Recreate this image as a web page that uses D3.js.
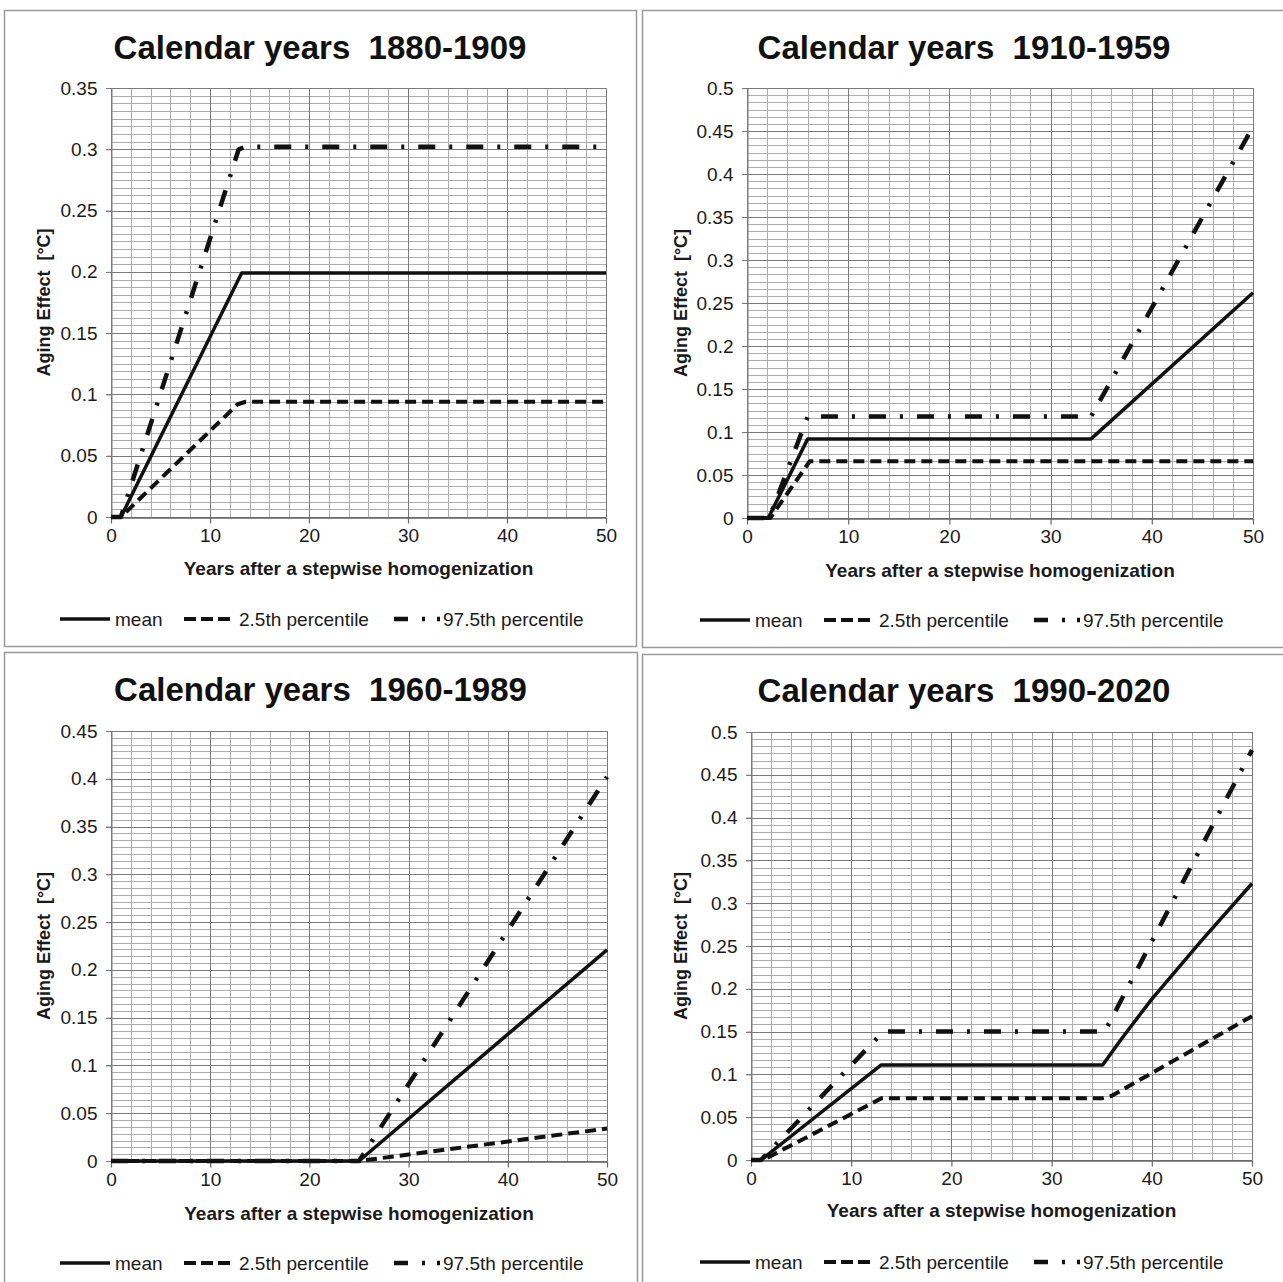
<!DOCTYPE html>
<html>
<head>
<meta charset="utf-8">
<script src="https://cdn.jsdelivr.net/npm/d3@7"></script>
<style>
  body { margin: 0; background: #fff; }
  svg { display: block; }
</style>
</head>
<body>
<svg id="chart" width="1283" height="1282"></svg>
<script>
'use strict';

// ── data ────────────────────────────────────────────────────────────────────
const periods = ['1880-1909', '1910-1959', '1960-1989', '1990-2020'];
const yMaxes = [0.35, 0.5, 0.45, 0.5];
const xTicks = [0, 10, 20, 30, 40, 50];
const seriesNames = ['mean', '2.5th percentile', '97.5th percentile'];

// [years after homogenization, aging effect °C]
const mean1880 = [[0, 0], [1, 0], [13.2, 0.199], [50, 0.199]];
const low1880  = [[0, 0], [1, 0], [12.8, 0.092], [13.6, 0.094], [50, 0.094]];
const high1880 = [[0, 0], [1, 0], [12.9, 0.300], [13.6, 0.302], [50, 0.302]];

const mean1910 = [[0, 0], [2.1, 0], [6, 0.092], [34, 0.092], [50, 0.262]];
const low1910  = [[0, 0], [2.3, 0], [6.2, 0.066], [50, 0.066]];
const high1910 = [[0, 0], [2.2, 0], [6, 0.118], [34, 0.118], [50, 0.455]];

const mean1960 = [[0, 0], [25, 0], [50, 0.221]];
const low1960  = [[0, 0], [25, 0], [50, 0.034]];
const high1960 = [[0, 0], [25, 0], [50, 0.402]];

const mean1990 = [[0, 0], [1, 0], [13, 0.111], [35.1, 0.111], [37, 0.142], [40, 0.188], [45, 0.257], [50, 0.323]];
const low1990  = [[0, 0], [1.2, 0], [13, 0.072], [35, 0.072], [36, 0.075], [50, 0.168]];
const high1990 = [[0, 0], [1, 0], [13.2, 0.150], [35.3, 0.150], [50, 0.479]];

// ── layout (pixel boxes of each sub chart) ──────────────────────────────────
const panels = [
  { period: periods[0], yMax: yMaxes[0], series: [mean1880, low1880, high1880],
    box: [4, 10, 632, 636], plot: [111, 88, 606, 517], minor: 8, titleY: 47, xlabY: 568, ylabX: 44, legX: 60, legY: 619 },
  { period: periods[1], yMax: yMaxes[1], series: [mean1910, low1910, high1910],
    box: [642, 10, 644, 637], plot: [747, 88, 1253, 518], minor: 6, titleY: 47, xlabY: 570, ylabX: 681, legX: 700, legY: 620 },
  { period: periods[2], yMax: yMaxes[2], series: [mean1960, low1960, high1960],
    box: [4, 652, 633, 640], plot: [111, 731, 607, 1161], minor: 7, titleY: 689, xlabY: 1213, ylabX: 44, legX: 60, legY: 1263 },
  { period: periods[3], yMax: yMaxes[3], series: [mean1990, low1990, high1990],
    box: [642, 654, 644, 640], plot: [751, 732, 1252, 1160], minor: 6, titleY: 690, xlabY: 1210, ylabX: 681, legX: 700, legY: 1262 },
];

const FONT = '"Liberation Sans", Arial, sans-serif';
const INK = '#111';
const TXT = '#1a1a1a';
const styles = [
  { width: 3.5, dash: null },
  { width: 4, dash: '11,6' },
  { width: 4.5, dash: '17,14,3,14' },
];

const svg = d3.select('#chart');
svg.append('rect').attr('width', 1283).attr('height', 1282).attr('fill', '#fff');

const fmt = v => String(+v.toFixed(2));

panels.forEach(p => {
  const g = svg.append('g');
  const [bx, by, bw, bh] = p.box;
  const [x0, y0, x1, y1] = p.plot;

  // panel frame
  g.append('rect')
    .attr('x', bx + 0.5).attr('y', by + 0.5)
    .attr('width', bw).attr('height', bh)
    .attr('fill', '#fff')
    .attr('stroke', '#9a9a9a')
    .attr('stroke-width', 1.5);

  const x = d3.scaleLinear().domain([0, 50]).range([x0, x1]);
  const y = d3.scaleLinear().domain([0, p.yMax]).range([y1, y0]);
  const crisp = v => Math.round(v) + 0.5;

  // minor grid
  const xMinor = d3.range(0, 50.001, 2);
  const yStep = 0.05 / p.minor;
  const yMinor = d3.range(0, p.yMax + yStep / 2, yStep);
  const grid = g.append('g');
  grid.selectAll('.vmin').data(xMinor).join('line')
    .attr('x1', d => crisp(x(d))).attr('x2', d => crisp(x(d)))
    .attr('y1', y0).attr('y2', y1)
    .attr('stroke', '#adadad').attr('stroke-width', 1);
  grid.selectAll('.hmin').data(yMinor).join('line')
    .attr('y1', d => crisp(y(d))).attr('y2', d => crisp(y(d)))
    .attr('x1', x0).attr('x2', x1)
    .attr('stroke', '#adadad').attr('stroke-width', 1);

  // major grid
  const yMajor = d3.range(0, p.yMax + 0.001, 0.05);
  grid.selectAll('.vmaj').data(xTicks).join('line')
    .attr('x1', d => crisp(x(d))).attr('x2', d => crisp(x(d)))
    .attr('y1', y0).attr('y2', y1)
    .attr('stroke', '#7a7a7a').attr('stroke-width', 1);
  grid.selectAll('.hmaj').data(yMajor).join('line')
    .attr('y1', d => crisp(y(d))).attr('y2', d => crisp(y(d)))
    .attr('x1', x0 - 5).attr('x2', x1)
    .attr('stroke', '#7a7a7a').attr('stroke-width', 1);

  // axes
  const xAxis = g.append('g')
    .attr('transform', `translate(0,${crisp(y(0))})`)
    .call(d3.axisBottom(x).tickValues(xTicks).tickSize(6).tickSizeOuter(0).tickPadding(5).tickFormat(d3.format('d')));
  xAxis.select('.domain').attr('stroke', '#666').attr('stroke-width', 1.5);
  xAxis.selectAll('.tick line').attr('stroke', '#666').attr('stroke-width', 1.2);
  xAxis.selectAll('text')
    .attr('font-family', FONT).attr('font-size', 19).attr('fill', TXT);

  const yAxis = g.append('g')
    .attr('transform', `translate(${crisp(x(0))},0)`)
    .call(d3.axisLeft(y).tickValues(yMajor).tickSize(5).tickSizeOuter(0).tickPadding(9).tickFormat(fmt));
  yAxis.select('.domain').attr('stroke', '#7a7a7a');
  yAxis.selectAll('.tick line').attr('stroke', '#7a7a7a');
  yAxis.selectAll('text')
    .attr('font-family', FONT).attr('font-size', 19).attr('fill', TXT);

  // series
  const line = d3.line().x(d => x(d[0])).y(d => y(d[1]));
  p.series.forEach((s, i) => {
    g.append('path')
      .datum(s)
      .attr('d', line)
      .attr('fill', 'none')
      .attr('stroke', INK)
      .attr('stroke-width', styles[i].width)
      .attr('stroke-linejoin', 'round')
      .attr('stroke-dasharray', styles[i].dash);
  });

  // titles
  g.append('text')
    .attr('x', bx + bw / 2).attr('y', p.titleY)
    .attr('dy', '0.35em')
    .attr('text-anchor', 'middle')
    .attr('font-family', FONT).attr('font-weight', 700).attr('font-size', 33)
    .attr('fill', INK)
    .text('Calendar years\u00a0 ' + p.period);

  g.append('text')
    .attr('x', (x0 + x1) / 2).attr('y', p.xlabY)
    .attr('dy', '0.35em')
    .attr('text-anchor', 'middle')
    .attr('font-family', FONT).attr('font-weight', 700).attr('font-size', 19)
    .attr('fill', TXT)
    .text('Years after a stepwise homogenization');

  g.append('text')
    .attr('transform', `translate(${p.ylabX},${(y0 + y1) / 2}) rotate(-90)`)
    .attr('dy', '0.35em')
    .attr('text-anchor', 'middle')
    .attr('font-family', FONT).attr('font-weight', 700).attr('font-size', 18)
    .attr('fill', TXT)
    .text('Aging Effect\u00a0 [°C]');

  // legend
  const legItems = [
    { x1: 0, x2: 50, tx: 55 },
    { x1: 124, x2: 171, tx: 179 },
    { x1: 334, x2: 381, tx: 383 },
  ];
  const legDash = [null, '12,5', '14,14,3,12,3,20'];
  const leg = g.append('g').attr('transform', `translate(${p.legX},${p.legY})`);
  legItems.forEach((it, i) => {
    leg.append('line')
      .attr('x1', it.x1).attr('x2', it.x2)
      .attr('y1', 0).attr('y2', 0)
      .attr('stroke', INK)
      .attr('stroke-width', styles[i].width)
      .attr('stroke-dasharray', legDash[i]);
    leg.append('text')
      .attr('x', it.tx).attr('y', 0)
      .attr('dy', '0.35em')
      .attr('font-family', FONT).attr('font-size', 19)
      .attr('fill', TXT)
      .text(seriesNames[i]);
  });
});
</script>
</body>
</html>
